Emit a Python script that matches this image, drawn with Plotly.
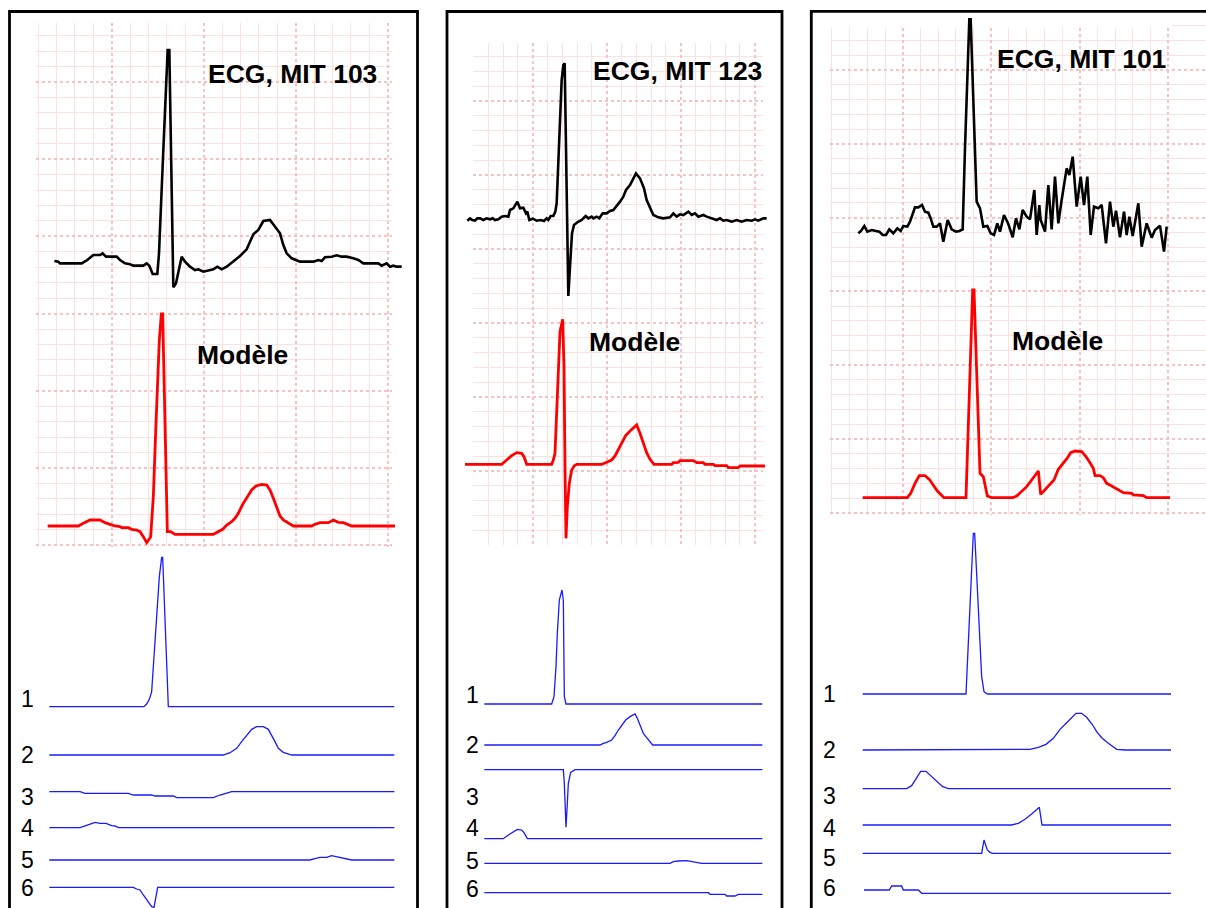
import plotly.graph_objects as go

W, H = 1206, 908

# ---------------- DATA (time in ms, amplitude in ADC units, relative to baseline) ----------------
# Panel 1 : ECG, MIT 103
p1_ecg_t = [163,175,180,245,262,280,300,308,318,350,360,375,390,400,430,440,448,458,472,477,490,503,508,520,528,538,545,555,570,585,595,610,625,640,652,665,680,700,720,740,760,775,790,810,825,840,850,860,875,900,940,955,965,975,995,1010,1025,1040,1060,1075,1090,1135,1145,1160,1170,1180,1190,1205]
p1_ecg_v = [7,5,0,0,10,25,25,30,20,20,10,0,-3,-7,-7,0,-7,-32,-32,30,340,640,640,-72,-60,-10,20,5,-10,-20,-18,-25,-22,-18,-10,-18,-10,5,22,42,87,100,127,130,110,90,55,30,15,5,5,10,7,18,20,24,20,20,15,10,0,0,-7,0,-10,-7,-10,-10]
p1_mod_t = [143,235,250,270,300,315,330,345,360,365,385,395,410,420,430,440,452,460,468,478,484,488,495,502,512,525,640,655,668,680,695,705,715,728,740,755,768,785,800,810,820,830,840,850,865,880,935,945,960,985,1000,1015,1030,1040,1055,1185]
p1_mod_v = [0,0,8,18,18,10,5,0,-2,-5,-5,-10,-12,-17,-32,-50,-32,88,308,558,636,636,310,-17,-17,-25,-25,-17,-10,3,13,23,38,65,83,108,120,125,123,108,83,53,30,18,8,0,0,5,10,10,18,11,10,5,0,0]
p1_c1_t = [148,432,440,448,455,460,466,472,478,485,488,505,1183]
p1_c1_v = [0,0,8,22,45,130,220,300,390,448,448,0,0]
p1_c2_t = [148,670,690,710,725,740,755,770,790,805,815,825,835,850,875,1183]
p1_c2_v = [0,0,7,20,40,60,77,85,85,77,60,40,20,8,0,0]
p1_c3_t = [148,240,255,385,400,455,465,520,530,640,660,680,695,1183]
p1_c3_v = [0,0,-5,-5,-10,-10,-13,-13,-18,-18,-10,-5,0,0]
p1_c4_t = [148,240,260,285,300,318,335,345,355,1183]
p1_c4_v = [0,0,7,16,13,13,6,5,0,0]
p1_c5_t = [148,930,945,960,980,995,1005,1020,1035,1055,1183]
p1_c5_v = [0,0,4,8,8,13,11,8,5,0,0]
p1_c6_t = [148,400,410,420,430,445,455,462,468,473,1183]
p1_c6_v = [0,0,-5,-8,-23,-46,-58,-60,-28,0,0]

# Panel 2 : ECG, MIT 123
p2_ecg_t = [82,90,97,105,112,120,130,140,150,158,165,175,185,195,205,210,220,232,240,250,258,262,268,278,290,302,312,320,325,332,340,346,350,355,360,365,370,374,377,381,385,390,396,402,412,425,437,445,455,460,470,478,488,500,510,520,530,540,550,558,570,580,588,600,612,620,630,640,655,670,690,700,710,720,730,745,755,765,775,790,800,815,830,840,850,860,875,890,905,920,935,945,955,970,980]
p2_ecg_v = [-2,5,0,-2,5,5,0,5,2,5,0,2,10,12,10,30,35,55,35,37,20,25,0,4,-2,0,-3,5,0,12,12,25,50,180,310,420,465,470,280,30,-228,-140,-40,-15,-7,0,12,5,10,5,10,5,20,20,27,30,42,55,70,90,105,125,140,125,95,60,35,15,8,5,8,20,10,17,15,25,15,20,10,15,10,5,0,5,-2,0,-5,0,-5,0,-2,2,-2,5,5]
p2_mod_t = [75,185,200,215,230,245,252,260,335,340,345,350,355,360,368,372,375,378,382,388,395,403,410,485,500,515,525,535,545,557,570,585,590,600,610,620,630,642,695,700,715,720,760,770,790,795,820,825,860,865,895,900,975]
p2_mod_v = [0,0,13,26,35,33,23,0,0,13,33,143,293,398,435,293,-7,-222,-127,-57,-17,-4,0,0,6,13,25,43,61,86,100,115,118,93,63,35,15,0,0,5,6,11,11,5,5,0,0,-4,-4,-10,-10,-5,-5]
p2_c1_t = [133,335,342,348,352,358,366,370,373,378,967]
p2_c1_v = [0,0,22,112,212,312,342,312,22,0,0]
p2_c2_t = [133,480,490,500,515,525,535,545,557,570,585,592,600,610,620,638,967]
p2_c2_v = [0,0,5,8,15,28,45,58,75,85,93,80,60,35,22,0,0]
p2_c3_t = [133,370,373,376,378,382,385,392,405,967]
p2_c3_v = [0,0,-41,-101,-173,-101,-41,-8,0,0]
p2_c4_t = [133,190,205,220,232,245,252,262,967]
p2_c4_v = [0,0,11,21,28,26,18,0,0]
p2_c5_t = [133,690,700,715,740,760,775,785,967]
p2_c5_v = [0,0,5,7,8,5,3,0,0]
p2_c6_t = [133,805,810,855,860,885,895,967]
p2_c6_v = [0,0,-5,-5,-10,-10,-5,-5]

# Panel 3 : ECG, MIT 101
p3_ecg_t = [175,183,193,202,215,225,238,248,258,268,280,292,302,310,322,330,338,345,355,366,375,385,392,400,410,420,430,443,455,468,478,488,495,502,508,512,520,530,540,550,562,572,582,592,600,612,625,638,648,658,668,680,690,703,710,718,722,735,745,755,765,775,785,800,808,818,830,842,852,862,872,882,895,905,918,930,940,948,960,972,980,988,998,1015,1025,1040,1055,1065,1080,1092,1100]
p3_ecg_v = [-5,2,17,0,5,2,0,-10,-10,7,-5,10,2,17,15,30,55,73,73,80,60,57,40,15,15,25,-30,35,7,0,2,7,250,480,637,637,380,90,70,15,17,-5,-10,25,0,50,23,-17,40,7,65,45,37,125,-10,80,35,0,140,7,165,25,95,190,170,225,75,165,80,165,-10,75,70,80,-35,90,15,63,-17,60,-10,45,-13,85,-45,25,-18,5,18,-60,15]
p3_mod_t = [188,322,332,345,358,375,388,400,412,432,498,508,518,522,531,540,550,562,575,638,650,665,680,695,715,722,735,748,762,775,790,800,812,825,845,858,870,880,885,900,910,920,935,950,970,995,1000,1030,1040,1110]
p3_mod_v = [0,0,13,43,66,66,55,38,20,0,0,310,623,623,350,73,63,5,0,0,5,18,33,53,80,10,23,38,53,85,103,116,135,140,138,123,105,88,66,66,60,43,35,26,15,13,8,6,0,0]
p3_c1_t = [188,498,520,524,535,545,552,562,1113]
p3_c1_v = [0,0,482,482,257,52,7,0,0]
p3_c2_t = [188,670,690,715,738,760,780,800,815,828,845,860,878,890,905,925,950,975,1113]
p3_c2_v = [0,0,2,8,17,35,62,82,98,110,110,98,75,55,37,20,2,0,0]
p3_c3_t = [188,320,335,348,362,378,393,410,428,445,1113]
p3_c3_v = [0,0,9,31,52,52,38,21,6,0,0]
p3_c4_t = [188,635,655,675,695,708,718,726,1113]
p3_c4_v = [0,0,5,17,33,45,53,0,0]
p3_c5_t = [188,545,552,562,570,578,1113]
p3_c5_v = [0,0,40,10,3,0,0]
p3_c6_t = [192,268,275,305,310,355,365,1113]
p3_c6_v = [0,0,12,12,0,0,-10,-10]

titles = ["ECG, MIT 103", "ECG, MIT 123", "ECG, MIT 101"]
model_label = "Modèle"
component_labels = ["1", "2", "3", "4", "5", "6"]

# ---------------- LAYOUT / STYLE ----------------
SCALE = 3.0  # ms per pixel and ADC units per pixel
FONT = "Liberation Sans, Arial, Helvetica, sans-serif"
BLACK, RED, BLUE = "#000000", "#ff0000", "#1a1aff"
GRID_MINOR, GRID_MAJOR = "#fde0e0", "#f7c2c2"

panels = [
    dict(xoff=0,
         traces=[(p1_ecg_t, p1_ecg_v, 790/3, BLACK, 2.6), (p1_mod_t, p1_mod_v, 290+708/3, RED, 2.8),
                 (p1_c1_t, p1_c1_v, 550+470/3, BLUE, 1.3), (p1_c2_t, p1_c2_v, 550+615/3, BLUE, 1.3),
                 (p1_c3_t, p1_c3_v, 550+725/3, BLUE, 1.3), (p1_c4_t, p1_c4_v, 550+833/3, BLUE, 1.3),
                 (p1_c5_t, p1_c5_v, 550+930/3, BLUE, 1.3), (p1_c6_t, p1_c6_v, 550+1012/3, BLUE, 1.3)],
         title_xy=(292.5, 74), model_xy=(242, 355), label_x=27,
         label_y=[699, 755, 797, 828, 860, 888], box=(9.5, 11.5, 417.5)),
    dict(xoff=440,
         traces=[(p2_ecg_t, p2_ecg_v, 660/3, BLACK, 2.6), (p2_mod_t, p2_mod_v, 300+493/3, RED, 2.8),
                 (p2_c1_t, p2_c1_v, 550+462/3, BLUE, 1.3), (p2_c2_t, p2_c2_v, 550+585/3, BLUE, 1.3),
                 (p2_c3_t, p2_c3_v, 550+659/3, BLUE, 1.3), (p2_c4_t, p2_c4_v, 550+866/3, BLUE, 1.3),
                 (p2_c5_t, p2_c5_v, 550+940/3, BLUE, 1.3), (p2_c6_t, p2_c6_v, 550+1028/3, BLUE, 1.3)],
         title_xy=(677.5, 71), model_xy=(634, 342), label_x=472,
         label_y=[695, 745, 797, 828, 861, 889], box=(447, 11.5, 782)),
    dict(xoff=800,
         traces=[(p3_ecg_t, p3_ecg_v, 695/3, BLACK, 2.6), (p3_mod_t, p3_mod_v, 270+683/3, RED, 2.8),
                 (p3_c1_t, p3_c1_v, 520+522/3, BLUE, 1.3), (p3_c2_t, p3_c2_v, 520+690/3, BLUE, 1.3),
                 (p3_c3_t, p3_c3_v, 520+806/3, BLUE, 1.3), (p3_c4_t, p3_c4_v, 520+915/3, BLUE, 1.3),
                 (p3_c5_t, p3_c5_v, 520+1000/3, BLUE, 1.3), (p3_c6_t, p3_c6_v, 520+1110/3, BLUE, 1.3)],
         title_xy=(1081, 59), model_xy=(1057, 341), label_x=829,
         label_y=[694, 750, 796, 828, 858, 888], box=(811.3, 11.3, 1216)),
]

# ECG-paper grid areas: (x0, x1, y0, y1, x_origin, x_step, y_origin, y_step, vertical_lines)
grids = [
    (36, 392, 23, 547, 19.7, 18.4, 82, 15.44, True),
    (473, 763, 43, 545, 532.7, 14.8, 101, 14.8, True),
    (830, 1172, 28, 515, 902.7, 17.7, 70, 14.76, True),
    (1172, 1206, 15, 515, 902.7, 17.7, 70, 14.76, False),
]

layout = dict(width=W, height=H, margin=dict(l=0, r=0, t=0, b=0), autosize=False,
              paper_bgcolor="white", plot_bgcolor="rgba(0,0,0,0)", showlegend=False,
              font=dict(family=FONT, color="black"))

def sfx(i):
    return "" if i == 1 else str(i)

fig = go.Figure()
idx = 1
for (x0, x1, y0, y1, xo, xs, yo, ys, vlines) in grids:
    s = sfx(idx)
    layout["xaxis" + s] = dict(
        domain=[x0 / W, x1 / W], range=[(x0 - xo) / xs, (x1 - xo) / xs],
        anchor="y" + s, showticklabels=False, ticks="", showline=False, zeroline=False,
        showgrid=vlines, tick0=0, dtick=5, gridcolor=GRID_MAJOR, gridwidth=1.5, griddash="dot",
        minor=dict(tick0=0, dtick=1, showgrid=vlines, gridcolor=GRID_MINOR, gridwidth=1, griddash="solid"),
        fixedrange=True)
    layout["yaxis" + s] = dict(
        domain=[1 - y1 / H, 1 - y0 / H], range=[(y1 - yo) / ys, (y0 - yo) / ys],
        anchor="x" + s, showticklabels=False, ticks="", showline=False, zeroline=False,
        showgrid=True, tick0=0, dtick=5, gridcolor=GRID_MAJOR, gridwidth=1.5, griddash="dot",
        minor=dict(tick0=0, dtick=1, showgrid=True, gridcolor=GRID_MINOR, gridwidth=1, griddash="solid"),
        fixedrange=True)
    # empty trace so that the grid subplot is created (no marks drawn)
    fig.add_trace(go.Scatter(x=[], y=[], mode="lines", xaxis="x" + s, yaxis="y" + s,
                             hoverinfo="skip", showlegend=False))
    idx += 1

annotations = []
shapes = []
for p in panels:
    xoff = p["xoff"]
    for (t, v, base_px, color, width) in p["traces"]:
        s = sfx(idx)
        layout["xaxis" + s] = dict(domain=[0, 1], range=[-xoff * SCALE, (W - xoff) * SCALE],
                                   visible=False, anchor="y" + s, fixedrange=True)
        layout["yaxis" + s] = dict(domain=[0, 1], range=[(base_px - H) * SCALE, base_px * SCALE],
                                   visible=False, anchor="x" + s, fixedrange=True)
        fig.add_trace(go.Scatter(x=t, y=v, mode="lines", line=dict(color=color, width=width),
                                 xaxis="x" + s, yaxis="y" + s, hoverinfo="skip"))
        idx += 1

for i, p in enumerate(panels):
    tx, ty = p["title_xy"]
    annotations.append(dict(text=titles[i], x=tx / W, y=1 - ty / H, xref="paper", yref="paper",
                            showarrow=False, xanchor="center", yanchor="middle",
                            font=dict(family=FONT, size=26.5, color="black", weight="bold")))
    mx, my = p["model_xy"]
    annotations.append(dict(text=model_label, x=mx / W, y=1 - my / H, xref="paper", yref="paper",
                            showarrow=False, xanchor="center", yanchor="middle",
                            font=dict(family=FONT, size=26.5, color="black", weight="bold")))
    for lab, ly in zip(component_labels, p["label_y"]):
        annotations.append(dict(text=lab, x=p["label_x"] / W, y=1 - ly / H, xref="paper", yref="paper",
                                showarrow=False, xanchor="center", yanchor="middle",
                                font=dict(family=FONT, size=23, color="black")))
    bx0, by0, bx1 = p["box"]
    shapes.append(dict(type="rect", xref="paper", yref="paper", x0=bx0 / W, x1=bx1 / W,
                       y0=1 - by0 / H, y1=-0.05, line=dict(color="black", width=2.8),
                       fillcolor="rgba(0,0,0,0)", layer="above"))

layout["annotations"] = annotations
layout["shapes"] = shapes
fig.update_layout(**layout)
fig.write_html("out.html", config={"displayModeBar": False},
               post_script="document.body.style.margin='0px';document.body.style.overflow='hidden';")
